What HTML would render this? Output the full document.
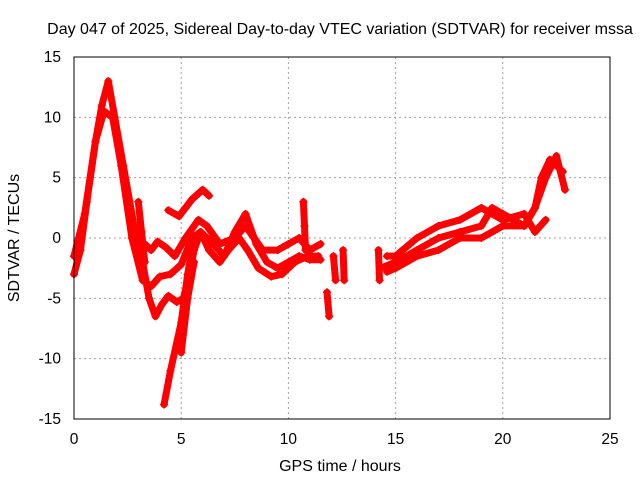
<!DOCTYPE html>
<html><head><meta charset="utf-8"><style>
body{margin:0;background:#fff}
svg{display:block;font-family:"Liberation Sans",sans-serif}
</style></head><body>
<svg id="c" width="640" height="480">
<text x="340" y="34" font-size="16" text-anchor="middle">Day 047 of 2025, Sidereal Day-to-day VTEC variation (SDTVAR) for receiver mssa</text>
<text x="340" y="471" font-size="16" text-anchor="middle">GPS time / hours</text>
<text transform="translate(19,238) rotate(-90)" font-size="16" text-anchor="middle">SDTVAR / TECUs</text>
<g id="grid"></g><g id="ser"></g>
<rect x="74" y="57" width="536" height="362" fill="none" stroke="#000"/>
</svg>
<script>
const xTicks=[0,5,10,15,20,25];
const yTicks=[-15,-10,-5,0,5,10,15];
const traceA=[[0,-3],[0.3,-1],[0.6,3],[1.0,8],[1.3,11],[1.6,13],[1.9,10],[2.3,6],[2.8,1],[3.2,-2],[3.5,-5],[3.8,-6.5],[4.1,-5.5],[4.4,-4.8],[4.8,-5.3],[5.1,-5],[5.4,-3],[5.6,-1],[5.9,0.5],[6.3,-1],[6.8,-2],[7.2,-1],[7.7,0],[8.1,-1],[8.6,-2.5],[9.2,-3.2],[9.7,-3],[10.3,-2],[10.9,-1.5],[11.4,-1.5]];
const traceB=[[0,-1.5],[0.5,2],[1,8],[1.4,10.5],[1.8,10],[2.2,6],[2.7,0],[3.2,-3.5],[3.6,-4],[4,-3.2],[4.5,-3],[5,-2.2],[5.5,0],[5.9,0.5],[6.5,-0.5],[7,-1.5],[7.5,0.5],[8,2],[8.5,-0.5],[9,-2],[9.5,-2.5],[10,-2],[10.5,-1.5],[11,-1.8],[11.5,-1.8]];
const traceC=[[3.3,-0.5],[3.6,-1],[3.9,-0.3],[4.3,-0.8],[4.7,-1.5],[5.2,0],[5.8,1.5],[6.2,1],[6.8,-0.5],[7.5,0],[8,1],[8.8,-1],[9.5,-1],[10,-0.5],[10.5,0],[11,-1],[11.5,-0.5]];
const traceD=[[4.4,2.3],[4.9,1.8],[5.5,3.2],[6,4],[6.3,3.5]];
const traceE=[[4.2,-13.8],[4.5,-11],[5,-7],[5.3,-3],[5.6,0]];
const traceF=[[5,-9.5],[5.3,-5],[5.6,-2]];
const traceG=[[3,3],[3.15,0.5],[3.3,-2]];
const traceH=[[10.7,3],[10.75,1],[10.8,-1]];
const traceI=[[11.8,-4.5],[11.9,-6.5]];
const traceJ=[[12.1,-1.5],[12.2,-3.5]];
const traceK=[[12.55,-1],[12.6,-3.5]];
const traceL=[[14.3,-2.5],[15,-2],[16,-1],[17,0],[18,0.5],[19,1],[19.5,2.5],[20,2],[21,1],[21.5,2.5],[21.8,5],[22.2,6.5],[22.8,5.5]];
const traceM=[[14.6,-1.5],[15,-1.5],[16,0],[17,1],[18,1.5],[19,2.5],[20,1.5],[21,2],[21.5,0.5],[22,1.5]];
const traceN=[[14.6,-2.8],[15,-2.5],[16,-1.5],[17,-1],[18,0],[19,0],[20,1],[21,1],[21.5,2.5],[22,5],[22.5,6.8],[22.9,4]];
const traceO=[[14.2,-1],[14.25,-3.5]];
const series=[traceA,traceB,traceC,traceD,traceE,traceF,traceG,traceH,traceI,traceJ,traceK,traceL,traceM,traceN,traceO];
const X=t=>74+t*536/25, Y=v=>238-v*362/30;
const NS="http://www.w3.org/2000/svg";
const g=document.getElementById('grid'), s=document.getElementById('ser');
function mk(tag,at,par){const e=document.createElementNS(NS,tag);for(const k in at)e.setAttribute(k,at[k]);par.appendChild(e);return e;}
xTicks.forEach(t=>{
 const l=mk('line',{x1:X(t),x2:X(t),y1:57,y2:419,stroke:'#a0a0a0','stroke-dasharray':'2,3'},g);
 
 
 const tx=mk('text',{x:X(t),y:444,'font-size':15.5,'text-anchor':'middle'},g);tx.textContent=t;
 
 
});
yTicks.forEach(v=>{
 const l=mk('line',{x1:74,x2:610,y1:Y(v),y2:Y(v),stroke:'#a0a0a0','stroke-dasharray':'2,3'},g);
 
 
 const tx=mk('text',{x:61,y:Y(v)+5,'font-size':15.5,'text-anchor':'end'},g);tx.textContent=v;
 
 
});
series.forEach(tr=>{
 const p=mk('polyline',{points:tr.map(d=>X(d[0])+','+Y(d[1])).join(' '),fill:'none',stroke:'#ff0000','stroke-width':7,'stroke-linejoin':'round','stroke-linecap':'round'},s);
 
 
 tr.forEach(d=>{
  const m=mk('path',{d:`M${X(d[0])-4},${Y(d[1])}h8M${X(d[0])},${Y(d[1])-4}v8`,stroke:'#ff0000','stroke-width':1.5},s);
  
  
 });
});
</script>
</body></html>
